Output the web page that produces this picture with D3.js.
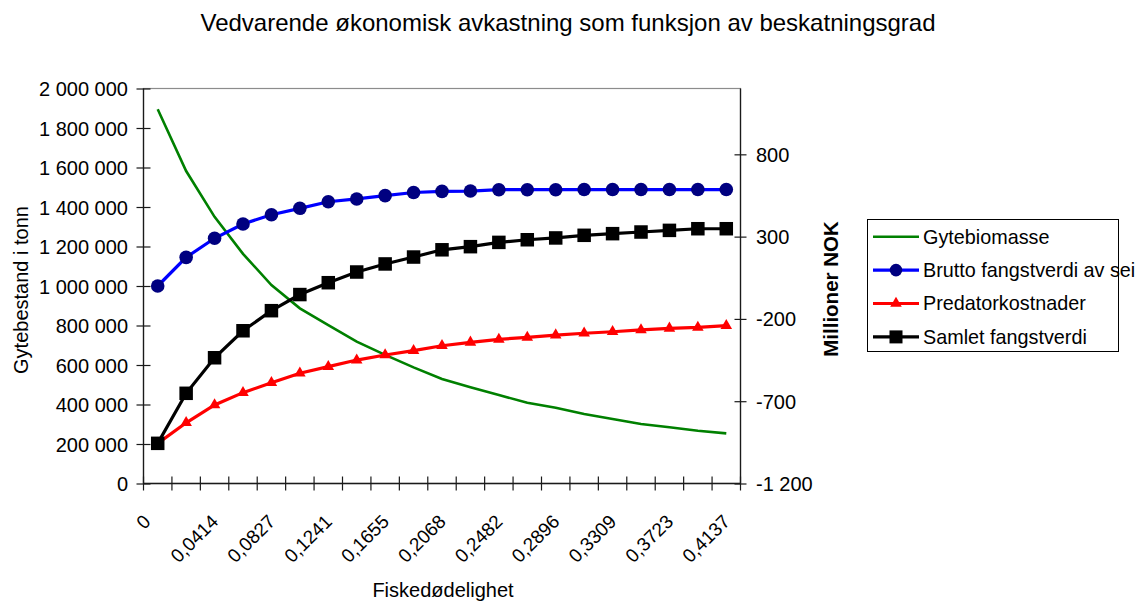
<!DOCTYPE html>
<html>
<head>
<meta charset="utf-8">
<script src="https://cdn.jsdelivr.net/npm/d3@7"></script>
<style>
  body { margin: 0; background: #fff; }
  text { font-family: "Liberation Sans", Arial, sans-serif; fill: #000; }
</style>
</head>
<body>
<svg id="chart" width="1141" height="603"></svg>
<script>
// Fiskedødelighet (F) – one category per step
const categories = ["0", "0,0207", "0,0414", "0,0621", "0,0827", "0,1034", "0,1241", "0,1448",
  "0,1655", "0,1862", "0,2068", "0,2275", "0,2482", "0,2689", "0,2896", "0,3103",
  "0,3309", "0,3516", "0,3723", "0,3930", "0,4137"];

// Gytebiomasse, tonn (venstre akse)
const gytebiomasse = [1895000, 1582000, 1350000, 1163000, 1005000, 887000, 802000, 718000,
  651000, 588000, 529000, 487000, 448000, 409000, 384000, 352000, 327000, 301000, 285000,
  267000, 254000];

// Millioner NOK (høyre akse)
const bruttoFangstverdi = [0, 174, 290, 377, 433, 472, 512, 529, 549, 568, 575, 577, 585,
  585, 585, 586, 586, 586, 586, 586, 586];
const predatorkostnader = [-956, -831, -723, -648, -588, -530, -490, -450, -419, -393, -363,
  -342, -324, -312, -298, -287, -278, -267, -257, -251, -241];
const samletFangstverdi = [-956, -652, -436, -272, -150, -52, 20, 85, 134, 176, 220, 239,
  265, 281, 292, 308, 318, 328, 338, 348, 348];

const leftTicks = [0, 200000, 400000, 600000, 800000, 1000000, 1200000, 1400000, 1600000,
  1800000, 2000000];
const rightTicks = [-1200, -700, -200, 300, 800];

const title = "Vedvarende økonomisk avkastning som funksjon av beskatningsgrad";
const xTitle = "Fiskedødelighet";
const yLeftTitle = "Gytebestand i tonn";
const yRightTitle = "Millioner NOK";
const seriesNames = ["Gytebiomasse", "Brutto fangstverdi av sei", "Predatorkostnader", "Samlet fangstverdi"];

// ---- layout ----
const plot = { left: 143.5, right: 740.5, top: 88.5, bottom: 483.5 };
const svg = d3.select("#chart");

const x = d3.scaleBand().domain(categories).range([plot.left, plot.right]).padding(0);
const cx = d => x(d) + x.bandwidth() / 2;
const yL = d3.scaleLinear().domain([0, 2000000]).range([plot.bottom, plot.top]);
const yR = d3.scaleLinear().domain([-1200, 1200]).range([plot.bottom, plot.top]);

// thousands separated by spaces, plain hyphen for negatives
const spaced = v => d3.format(",")(v).replace(/,/g, " ").replace("\u2212", "-");

// title
svg.append("text")
  .attr("x", 568).attr("y", 31)
  .attr("text-anchor", "middle")
  .style("font-size", "24px")
  .text(title);

// plot frame
svg.append("rect")
  .attr("x", plot.left).attr("y", plot.top)
  .attr("width", plot.right - plot.left).attr("height", plot.bottom - plot.top)
  .attr("fill", "#fff").attr("stroke", "#8c8c8c").attr("stroke-width", 1.2);

const axisColor = "#1a1a1a";

// left axis
const gL = svg.append("g").attr("transform", `translate(${plot.left},0)`)
  .call(d3.axisLeft(yL).tickValues(leftTicks).tickFormat(spaced).tickSize(7));
gL.selectAll("line").attr("x2", -7).attr("x1", 7);
gL.selectAll(".tick text").attr("x", -15.5).style("font-size", "20px").attr("dy", "0.35em");

// right axis
const gR = svg.append("g").attr("transform", `translate(${plot.right},0)`)
  .call(d3.axisRight(yR).tickValues(rightTicks).tickFormat(spaced).tickSize(7));
gR.selectAll("line").attr("x1", -6).attr("x2", 6);
gR.selectAll(".tick text").attr("x", 15.5).style("font-size", "20px").attr("dy", "0.35em");

// bottom axis: labels on every second category, ticks between categories
const gB = svg.append("g").attr("transform", `translate(0,${plot.bottom})`)
  .call(d3.axisBottom(x).tickValues(categories.filter((d, i) => i % 2 === 0)).tickSize(0));
// rotated labels: box top hangs a fixed distance below the axis
const labelSize = 19, capH = labelSize * 0.72, s45 = Math.SQRT1_2;
gB.selectAll(".tick text")
  .attr("x", 0).attr("y", 0).attr("dy", "0.36em")
  .attr("text-anchor", "middle")
  .style("font-size", labelSize + "px")
  .each(function () {
    const L = this.getComputedTextLength();
    const half = (L + capH) / 2 * s45;
    const dx = -13.2 - 0.124 * L;
    d3.select(this).attr("transform", `translate(${dx},${29.5 + half}) rotate(-45)`);
  });
const bounds = categories.map(d => x(d)).concat([x.range()[1]]);
gB.selectAll(".sep").data(bounds).enter().append("line")
  .attr("x1", d => d).attr("x2", d => d).attr("y1", -7).attr("y2", 7)
  .attr("stroke", axisColor);

[gL, gR, gB].forEach(g => {
  g.select(".domain").attr("stroke", axisColor).attr("stroke-width", 1.3);
  g.selectAll("line").attr("stroke", axisColor).attr("stroke-width", 1.2);
});
gL.select(".domain").attr("d", `M0,${plot.top}V${plot.bottom}`);
gR.select(".domain").attr("d", `M0,${plot.top}V${plot.bottom}`);
gB.select(".domain").attr("d", `M${plot.left},0H${plot.right}`);

// axis titles
svg.append("text")
  .attr("transform", "translate(28,290) rotate(-90)")
  .attr("text-anchor", "middle").style("font-size", "20px").text(yLeftTitle);
svg.append("text")
  .attr("transform", "translate(838,289) rotate(-90)")
  .attr("text-anchor", "middle").style("font-size", "20.5px").style("font-weight", "bold")
  .text(yRightTitle);
svg.append("text")
  .attr("x", 443).attr("y", 597)
  .attr("text-anchor", "middle").style("font-size", "20px").text(xTitle);

// ---- series ----
const colors = { green: "#008000", blue: "#0000ff", navy: "#000080", red: "#ff0000", black: "#000" };

const lineL = d3.line().x((d, i) => cx(categories[i])).y(d => yL(d));
const lineR = d3.line().x((d, i) => cx(categories[i])).y(d => yR(d));

svg.append("path").datum(gytebiomasse)
  .attr("d", lineL).attr("fill", "none").attr("stroke", colors.green).attr("stroke-width", 2.6);

svg.append("path").datum(bruttoFangstverdi)
  .attr("d", lineR).attr("fill", "none").attr("stroke", colors.blue).attr("stroke-width", 3.2);
svg.append("g").selectAll("circle").data(bruttoFangstverdi).enter().append("circle")
  .attr("cx", (d, i) => cx(categories[i])).attr("cy", d => yR(d)).attr("r", 6.8)
  .attr("fill", colors.navy);

const tri = d3.symbol().type(d3.symbolTriangle).size(58);
svg.append("path").datum(predatorkostnader)
  .attr("d", lineR).attr("fill", "none").attr("stroke", colors.red).attr("stroke-width", 3.2);
svg.append("g").selectAll("path").data(predatorkostnader).enter().append("path")
  .attr("d", tri)
  .attr("transform", (d, i) => `translate(${cx(categories[i])},${yR(d)})`)
  .attr("fill", colors.red);

svg.append("path").datum(samletFangstverdi)
  .attr("d", lineR).attr("fill", "none").attr("stroke", colors.black).attr("stroke-width", 3.2);
const sq = 13.5;
svg.append("g").selectAll("rect").data(samletFangstverdi).enter().append("rect")
  .attr("x", (d, i) => cx(categories[i]) - sq / 2).attr("y", d => yR(d) - sq / 2)
  .attr("width", sq).attr("height", sq).attr("fill", colors.black);

// ---- legend ----
const lg = svg.append("g");
lg.append("rect").attr("x", 867.5).attr("y", 219.5).attr("width", 251).attr("height", 132)
  .attr("fill", "#fff").attr("stroke", "#000").attr("stroke-width", 1);
const rowY = i => 236.7 + i * 33.4;
const legendItems = [
  { name: seriesNames[0], stroke: colors.green, w: 2.6, marker: null },
  { name: seriesNames[1], stroke: colors.blue, w: 3.2, marker: "circle" },
  { name: seriesNames[2], stroke: colors.red, w: 3.2, marker: "triangle" },
  { name: seriesNames[3], stroke: colors.black, w: 3.2, marker: "square" }
];
legendItems.forEach((it, i) => {
  const y = rowY(i);
  lg.append("line").attr("x1", 873).attr("x2", 919).attr("y1", y).attr("y2", y)
    .attr("stroke", it.stroke).attr("stroke-width", it.w);
  if (it.marker === "circle") lg.append("circle").attr("cx", 896).attr("cy", y).attr("r", 6.3).attr("fill", colors.navy);
  if (it.marker === "triangle") lg.append("path").attr("d", tri).attr("transform", `translate(896,${y})`).attr("fill", colors.red);
  if (it.marker === "square") lg.append("rect").attr("x", 896 - 6.5).attr("y", y - 6.5).attr("width", 13).attr("height", 13).attr("fill", colors.black);
  lg.append("text").attr("x", 923).attr("y", y).attr("dy", "0.35em").style("font-size", "19.8px").text(it.name);
});
</script>
</body>
</html>
